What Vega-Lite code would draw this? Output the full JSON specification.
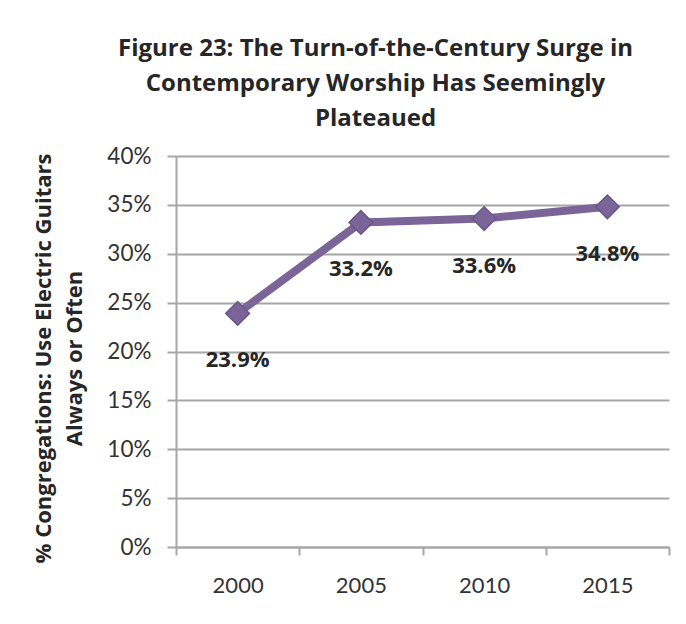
{
  "$schema": "https://vega.github.io/schema/vega-lite/v6.json",
  "autosize": "none",
  "width": 493,
  "height": 391,
  "padding": {"left": 176, "top": 156, "right": 17, "bottom": 77},
  "background": "white",
  "config": {
    "font": "Lato",
    "view": {"stroke": null}
  },
  "title": {
    "text": ["Figure 23: The Turn-of-the-Century Surge in", "Contemporary Worship Has Seemingly", "Plateaued"],
    "font": "Open Sans",
    "fontSize": 24,
    "fontWeight": "bold",
    "color": "#262626",
    "lineHeight": 35,
    "anchor": "middle",
    "frame": "group",
    "dx": -47,
    "offset": 14
  },
  "data": {
    "values": [
      {"year": "2000", "pct": 23.9, "label": "23.9%"},
      {"year": "2005", "pct": 33.2, "label": "33.2%"},
      {"year": "2010", "pct": 33.6, "label": "33.6%"},
      {"year": "2015", "pct": 34.8, "label": "34.8%"}
    ]
  },
  "encoding": {
    "x": {
      "field": "year",
      "type": "ordinal",
      "scale": {"type": "band", "paddingInner": 0, "paddingOuter": 0},
      "axis": {
        "title": null,
        "labelAngle": 0,
        "labelFont": "Lato",
        "labelFontSize": 22,
        "labelColor": "#333333",
        "labelPadding": 20,
        "domainColor": "#A6A6A6",
        "domainWidth": 2,
        "tickColor": "#A6A6A6",
        "tickWidth": 2,
        "tickSize": 8,
        "tickBand": "extent",
        "grid": false
      }
    },
    "y": {
      "field": "pct",
      "type": "quantitative",
      "scale": {"domain": [0, 40], "nice": false, "zero": true},
      "axis": {
        "values": [0, 5, 10, 15, 20, 25, 30, 35, 40],
        "labelExpr": "datum.value + '%'",
        "labelFont": "Lato",
        "labelFontSize": 22.5,
        "labelColor": "#333333",
        "labelPadding": 16,
        "domainColor": "#A6A6A6",
        "domainWidth": 2,
        "tickColor": "#A6A6A6",
        "tickWidth": 2,
        "tickSize": 9,
        "grid": true,
        "gridColor": "#A6A6A6",
        "gridWidth": 2,
        "title": ["% Congregations: Use Electric Guitars", "Always or Often"],
        "titleFont": "Open Sans",
        "titleFontSize": 22,
        "titleFontWeight": "bold",
        "titleColor": "#262626",
        "titleLineHeight": 31,
        "titleAngle": -90,
        "titleBaseline": "middle",
        "titleAlign": "center",
        "titleX": -133,
        "titleY": 202
      }
    }
  },
  "layer": [
    {
      "mark": {"type": "line", "color": "#7A6498", "strokeWidth": 8, "strokeJoin": "round"}
    },
    {
      "mark": {"type": "point", "shape": "diamond", "filled": true, "size": 560, "color": "#7A6498", "stroke": "#6A5588", "strokeWidth": 1.5, "opacity": 1}
    },
    {
      "mark": {"type": "text", "dy": 47, "baseline": "middle", "align": "center", "font": "Open Sans", "fontSize": 22, "fontWeight": "bold", "color": "#262626"},
      "encoding": {
        "text": {"field": "label", "type": "nominal"}
      }
    }
  ]
}
